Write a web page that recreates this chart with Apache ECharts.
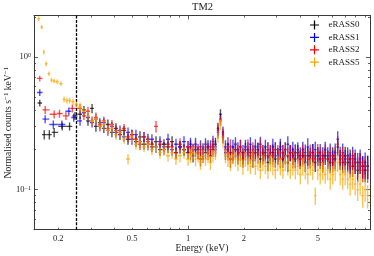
<!DOCTYPE html>
<html><head><meta charset="utf-8">
<script src="https://cdn.jsdelivr.net/npm/echarts@6/dist/echarts.min.js"></script>
<style>html,body{margin:0;padding:0;background:#fff}#c{width:374px;height:256px}</style>
</head><body><div id="c"></div>
<script>
// ---------------- data ----------------
const seriesNames = ['eRASS0', 'eRASS1', 'eRASS2', 'eRASS5'];
const seriesColors = ['#000000', '#0000ff', '#ff0000', '#ffa500'];

// shared energy grid (keV), bin centres
const energy = [
  0.262, 0.275, 0.289, 0.304, 0.319, 0.335, 0.352, 0.37, 0.389, 0.409,
  0.43, 0.452, 0.475, 0.499, 0.524, 0.551, 0.579, 0.608, 0.639, 0.672,
  0.706, 0.742, 0.78, 0.82, 0.861, 0.905, 0.951, 1.0, 1.031, 1.064,
  1.097, 1.132, 1.167, 1.204, 1.242, 1.281, 1.321, 1.362, 1.405, 1.449,
  1.495, 1.542, 1.59, 1.64, 1.692, 1.745, 1.8, 1.856, 1.915, 1.975,
  2.037, 2.101, 2.167, 2.235, 2.305, 2.378, 2.452, 2.529, 2.609, 2.691,
  2.775, 2.862, 2.952, 3.045, 3.141, 3.24, 3.341, 3.446, 3.555, 3.666,
  3.782, 3.9, 4.023, 4.149, 4.28, 4.414, 4.553, 4.696, 4.843, 4.995,
  5.152, 5.314, 5.481, 5.653, 5.831, 6.014, 6.203, 6.398, 6.599, 6.806,
  7.02, 7.241, 7.468, 7.703, 7.945, 8.195, 8.452, 8.718, 8.992, 9.274
];
// relative errors (%) on the shared grid
const errPct = [
  8, 7, 8, 8, 9, 8, 8, 9, 8, 9,
  9, 8, 9, 9, 9, 10, 9, 10, 9, 10,
  10, 9, 10, 10, 10, 11, 10, 11, 12, 11,
  12, 11, 12, 12, 11, 12, 12, 11, 12, 10,
  9, 11, 12, 13, 14, 13, 13, 14, 13, 14,
  13, 14, 13, 14, 14, 13, 14, 14, 13, 14,
  14, 15, 14, 14, 15, 14, 14, 15, 14, 15,
  15, 14, 16, 15, 15, 16, 15, 16, 15, 16,
  16, 16, 15, 16, 17, 16, 17, 15, 17, 17,
  17, 16, 18, 17, 18, 18, 18, 19, 19, 20
];
const yERASS0 = [
  0.37, 0.40, 0.33, 0.41, 0.30, 0.32, 0.29, 0.31, 0.27, 0.29,
  0.26, 0.28, 0.24, 0.26, 0.23, 0.25, 0.22, 0.24, 0.21, 0.23,
  0.20, 0.22, 0.21, 0.23, 0.19, 0.21, 0.20, 0.19, 0.21, 0.18,
  0.20, 0.19, 0.17, 0.20, 0.19, 0.21, 0.18, 0.20, 0.22, 0.29,
  0.37, 0.25, 0.19, 0.20, 0.17, 0.19, 0.20, 0.18, 0.19, 0.17,
  0.20, 0.18, 0.19, 0.17, 0.19, 0.20, 0.17, 0.18, 0.19, 0.16,
  0.18, 0.19, 0.17, 0.18, 0.20, 0.17, 0.18, 0.16, 0.19, 0.18,
  0.17, 0.19, 0.17, 0.18, 0.16, 0.18, 0.17, 0.19, 0.16, 0.18,
  0.17, 0.16, 0.18, 0.17, 0.16, 0.18, 0.17, 0.21, 0.17, 0.16,
  0.18, 0.16, 0.17, 0.15, 0.16, 0.14, 0.16, 0.15, 0.14, 0.15
];
const yERASS1 = [
  0.33, 0.38, 0.35, 0.32, 0.34, 0.30, 0.32, 0.28, 0.30, 0.27,
  0.28, 0.25, 0.27, 0.24, 0.26, 0.23, 0.25, 0.22, 0.24, 0.21,
  0.23, 0.21, 0.24, 0.20, 0.22, 0.21, 0.23, 0.21, 0.22, 0.20,
  0.22, 0.20, 0.21, 0.19, 0.22, 0.20, 0.21, 0.23, 0.21, 0.27,
  0.34, 0.27, 0.21, 0.22, 0.19, 0.21, 0.22, 0.20, 0.21, 0.19,
  0.21, 0.20, 0.22, 0.19, 0.21, 0.20, 0.22, 0.19, 0.21, 0.20,
  0.19, 0.21, 0.20, 0.18, 0.21, 0.19, 0.20, 0.22, 0.19, 0.20,
  0.19, 0.20, 0.18, 0.20, 0.19, 0.21, 0.18, 0.19, 0.20, 0.18,
  0.19, 0.18, 0.20, 0.18, 0.19, 0.17, 0.19, 0.24, 0.18, 0.19,
  0.17, 0.18, 0.16, 0.18, 0.17, 0.16, 0.17, 0.15, 0.16, 0.15
];
const yERASS2 = [
  0.41, 0.36, 0.39, 0.33, 0.35, 0.31, 0.33, 0.29, 0.31, 0.28,
  0.27, 0.29, 0.25, 0.26, 0.24, 0.22, 0.25, 0.23, 0.22, 0.30,
  0.22, 0.20, 0.22, 0.21, 0.19, 0.22, 0.20, 0.21, 0.19, 0.20,
  0.21, 0.19, 0.20, 0.18, 0.21, 0.19, 0.20, 0.22, 0.20, 0.28,
  0.33, 0.26, 0.20, 0.19, 0.21, 0.18, 0.20, 0.19, 0.21, 0.18,
  0.19, 0.21, 0.18, 0.20, 0.19, 0.18, 0.21, 0.19, 0.18, 0.20,
  0.19, 0.18, 0.20, 0.19, 0.17, 0.19, 0.20, 0.18, 0.19, 0.17,
  0.19, 0.18, 0.17, 0.19, 0.18, 0.17, 0.19, 0.18, 0.17, 0.19,
  0.18, 0.17, 0.19, 0.17, 0.18, 0.16, 0.18, 0.22, 0.17, 0.18,
  0.16, 0.17, 0.15, 0.17, 0.16, 0.15, 0.16, 0.14, 0.15, 0.14
];
const yERASS5 = [
  0.42, 0.39, 0.36, 0.33, 0.34, 0.30, 0.31, 0.28, 0.29, 0.26,
  0.27, 0.24, 0.17, 0.25, 0.22, 0.23, 0.21, 0.22, 0.20, 0.21,
  0.19, 0.20, 0.18, 0.19, 0.17, 0.18, 0.19, 0.17, 0.18, 0.19,
  0.17, 0.18, 0.16, 0.18, 0.17, 0.18, 0.16, 0.18, 0.19, 0.25,
  0.31, 0.23, 0.18, 0.17, 0.16, 0.18, 0.17, 0.16, 0.17, 0.15,
  0.17, 0.16, 0.15, 0.17, 0.15, 0.16, 0.14, 0.16, 0.15, 0.14,
  0.16, 0.15, 0.14, 0.16, 0.15, 0.14, 0.16, 0.15, 0.14, 0.15,
  0.14, 0.15, 0.13, 0.15, 0.14, 0.13, 0.15, 0.14, 0.09, 0.14,
  0.13, 0.14, 0.13, 0.14, 0.12, 0.13, 0.14, 0.16, 0.13, 0.12,
  0.13, 0.12, 0.11, 0.12, 0.11, 0.10, 0.11, 0.09, 0.10, 0.09
];
// soft-band bins below 0.26 keV (each observation binned separately)
const lowE0 = [0.159, 0.168, 0.179, 0.19, 0.21, 0.23, 0.246];
const lowY0 = [0.45, 0.26, 0.26, 0.27, 0.30, 0.30, 0.36];
const lowErr0 = [6, 8, 8, 8, 7, 7, 7];
const lowE1 = [0.159, 0.17, 0.188, 0.209, 0.228, 0.242];
const lowY1 = [0.54, 0.34, 0.31, 0.31, 0.39, 0.35];
const lowErr1 = [6, 7, 7, 7, 7, 7];
const lowE2 = [0.159, 0.17, 0.19, 0.203, 0.22, 0.238];
const lowY2 = [0.69, 0.40, 0.37, 0.375, 0.36, 0.41];
const lowErr2 = [5, 7, 7, 7, 7, 7];
const lowE5 = [0.157, 0.163, 0.167, 0.172, 0.178, 0.184, 0.19, 0.197, 0.207, 0.215, 0.223, 0.23, 0.24, 0.25];
const lowY5 = [1.95, 1.68, 1.09, 0.89, 0.75, 0.67, 0.66, 0.65, 0.63, 0.48, 0.47, 0.47, 0.46, 0.44];
const lowErr5 = [4, 4, 4, 4, 4, 4, 4, 4, 4, 5, 5, 5, 5, 5];

const vLineEnergy = 0.25;
const xRange = [0.148, 9.55];
const yRange = [0.0498, 2.06];
const xMajorTicks = [1];
const xMinorTicks = [0.2, 0.3, 0.4, 0.5, 0.6, 0.7, 0.8, 0.9, 2, 3, 4, 5, 6, 7, 8, 9];
const xTickValues = [0.2, 0.5, 1, 2, 5];
const xTickLabels = ['0.2', '0.5', '1', '2', '5'];
const yMajorTicks = [0.1, 1];
const yMinorTicks = [0.05, 0.06, 0.07, 0.08, 0.09, 0.2, 0.3, 0.4, 0.5, 0.6, 0.7, 0.8, 0.9, 2];
const yTickValues = [0.1, 1];
const yTickLabels = ['{a|10}{s|−1}', '{a|10}{s|0}'];

// ---------------- build ----------------
const L = Math.log10;
function buildData(lowE, lowY, lowErr, hiY) {
  const E = lowE.concat(energy), Y = lowY.concat(hiY), R = lowErr.concat(errPct);
  const out = [];
  for (let i = 0; i < E.length; i++) {
    let lo = i > 0 ? Math.sqrt(E[i - 1] * E[i]) : null;
    let hi = i < E.length - 1 ? Math.sqrt(E[i] * E[i + 1]) : null;
    if (lo === null) lo = E[i] * E[i] / hi;
    if (hi === null) hi = E[i] * E[i] / lo;
    out.push([E[i], lo, hi, Y[i], R[i] / 100]);
  }
  return out;
}
const datasets = [
  buildData(lowE0, lowY0, lowErr0, yERASS0),
  buildData(lowE1, lowY1, lowErr1, yERASS1),
  buildData(lowE2, lowY2, lowErr2, yERASS2),
  buildData(lowE5, lowY5, lowErr5, yERASS5)
];

const FONT = '"Liberation Serif", "DejaVu Serif", serif';
const AX = '#3a3a3a';
function labelFor(values, labels) {
  return function (v) {
    for (let i = 0; i < values.length; i++) if (Math.abs(L(values[i]) - v) < 1e-6) return labels[i];
    return '';
  };
}
function tickAxis(kind, pos, ticks, len, labels, showLine) {
  const rng = kind === 'x' ? xRange : yRange;
  const ax = {
    type: 'value', position: pos, min: L(rng[0]), max: L(rng[1]),
    gridIndex: 0,
    axisLine: { show: !!showLine, onZero: false, lineStyle: { color: AX, width: 1 } },
    splitLine: { show: false },
    axisTick: { show: true, inside: true, length: len, customValues: ticks.map(L), lineStyle: { color: AX, width: 0.8 } },
    axisLabel: { show: false }
  };
  if (labels) {
    ax.axisLabel = {
      show: true, customValues: labels[0].map(L), formatter: labelFor(labels[0], labels[1]),
      fontFamily: FONT, fontSize: 8.5, color: '#222', margin: kind === 'x' ? 5 : 3,
      rich: { a: { fontFamily: FONT, fontSize: 8.5, color: '#222', verticalAlign: 'bottom' }, s: { fontFamily: FONT, fontSize: 6, color: '#222', verticalAlign: 'top' } }
    };
  }
  return ax;
}

function renderItem(params, api) {
  const color = seriesColors[params.seriesIndex];
  const e = api.value(0), lo = api.value(1), hi = api.value(2), y = api.value(3), r = api.value(4);
  const pL = api.coord([lo, y]), pR = api.coord([hi, y]);
  const pT = api.coord([e, y * (1 + r)]), pB = api.coord([e, y * (1 - r)]);
  const style = { stroke: color, lineWidth: 1.35, opacity: 0.7 };
  return {
    type: 'group', children: [
      { type: 'line', shape: { x1: pL[0], y1: pL[1], x2: pR[0], y2: pR[1] }, style: style },
      { type: 'line', shape: { x1: pT[0], y1: pT[1], x2: pB[0], y2: pB[1] }, style: style }
    ]
  };
}

const series = datasets.map((d, i) => ({
  type: 'custom', name: seriesNames[i], color: seriesColors[i],
  xAxisIndex: 0, yAxisIndex: 0, clip: true,
  renderItem: renderItem, data: d, encode: { x: 0, y: 3 }, z: 2 + i
}));
series.push({
  type: 'line', name: 'vline', data: [], xAxisIndex: 0, yAxisIndex: 0, z: 10,
  markLine: {
    silent: true, symbol: ['none', 'none'], label: { show: false },
    lineStyle: { color: '#000', type: [3, 1.4], width: 1.3, opacity: 1 },
    data: [{ xAxis: vLineEnergy }], animation: false
  }
});

const chart = echarts.init(document.getElementById('c'), null, { renderer: 'canvas' });
chart.setOption({
  animation: false,
  backgroundColor: '#fff',
  title: { text: 'TM2', left: 192, top: 2, padding: 0, textStyle: { fontFamily: FONT, fontSize: 10.5, fontWeight: 'normal', color: '#222' } },
  legend: {
    data: seriesNames, orient: 'vertical', left: 310, top: 20.5, padding: 0,
    itemWidth: 18, itemHeight: 9, itemGap: 3.4, symbolKeepAspect: true,
    icon: 'path://M3.45,0H4.55V3.45H8V4.55H4.55V8H3.45V4.55H0V3.45H3.45Z',
    textStyle: { fontFamily: FONT, fontSize: 9, color: '#222', lineHeight: 9 }
  },
  grid: { left: 34, right: 4, top: 15.5, bottom: 26.3, containLabel: false, outerBoundsMode: 'none' },
  xAxis: [
    {
      type: 'log', logBase: 10, min: xRange[0], max: xRange[1], position: 'bottom',
      axisLine: { show: true, onZero: false, lineStyle: { color: AX, width: 1 } },
      axisTick: { show: false }, axisLabel: { show: false }, splitLine: { show: false }, minorTick: { show: false },
      name: 'Energy (keV)', nameLocation: 'middle', nameGap: 14,
      nameTextStyle: { fontFamily: FONT, fontSize: 9.7, color: '#222', verticalAlign: 'top' }
    },
    tickAxis('x', 'bottom', xMajorTicks, 4, [xTickValues, xTickLabels]),
    tickAxis('x', 'bottom', xMinorTicks, 2),
    tickAxis('x', 'top', xMajorTicks, 4, null, true),
    tickAxis('x', 'top', xMinorTicks, 2)
  ],
  yAxis: [
    {
      type: 'log', logBase: 10, min: yRange[0], max: yRange[1], position: 'left',
      axisLine: { show: true, onZero: false, lineStyle: { color: AX, width: 1 } },
      axisTick: { show: false }, axisLabel: { show: false }, splitLine: { show: false }, minorTick: { show: false },
      name: '{n|Normalised counts s}{s|−1}{n| keV}{s|−1}', nameLocation: 'middle', nameGap: 21,
      nameTextStyle: {
        fontFamily: FONT, fontSize: 9.6, color: '#222',
        rich: {
          n: { fontFamily: FONT, fontSize: 9.6, color: '#222', verticalAlign: 'bottom' },
          s: { fontFamily: FONT, fontSize: 7, color: '#222', verticalAlign: 'top' }
        }
      }
    },
    tickAxis('y', 'left', yMajorTicks, 4, [yTickValues, yTickLabels]),
    tickAxis('y', 'left', yMinorTicks, 2),
    tickAxis('y', 'right', yMajorTicks, 4, null, true),
    tickAxis('y', 'right', yMinorTicks, 2)
  ],
  series: series
});
</script>
</body></html>
